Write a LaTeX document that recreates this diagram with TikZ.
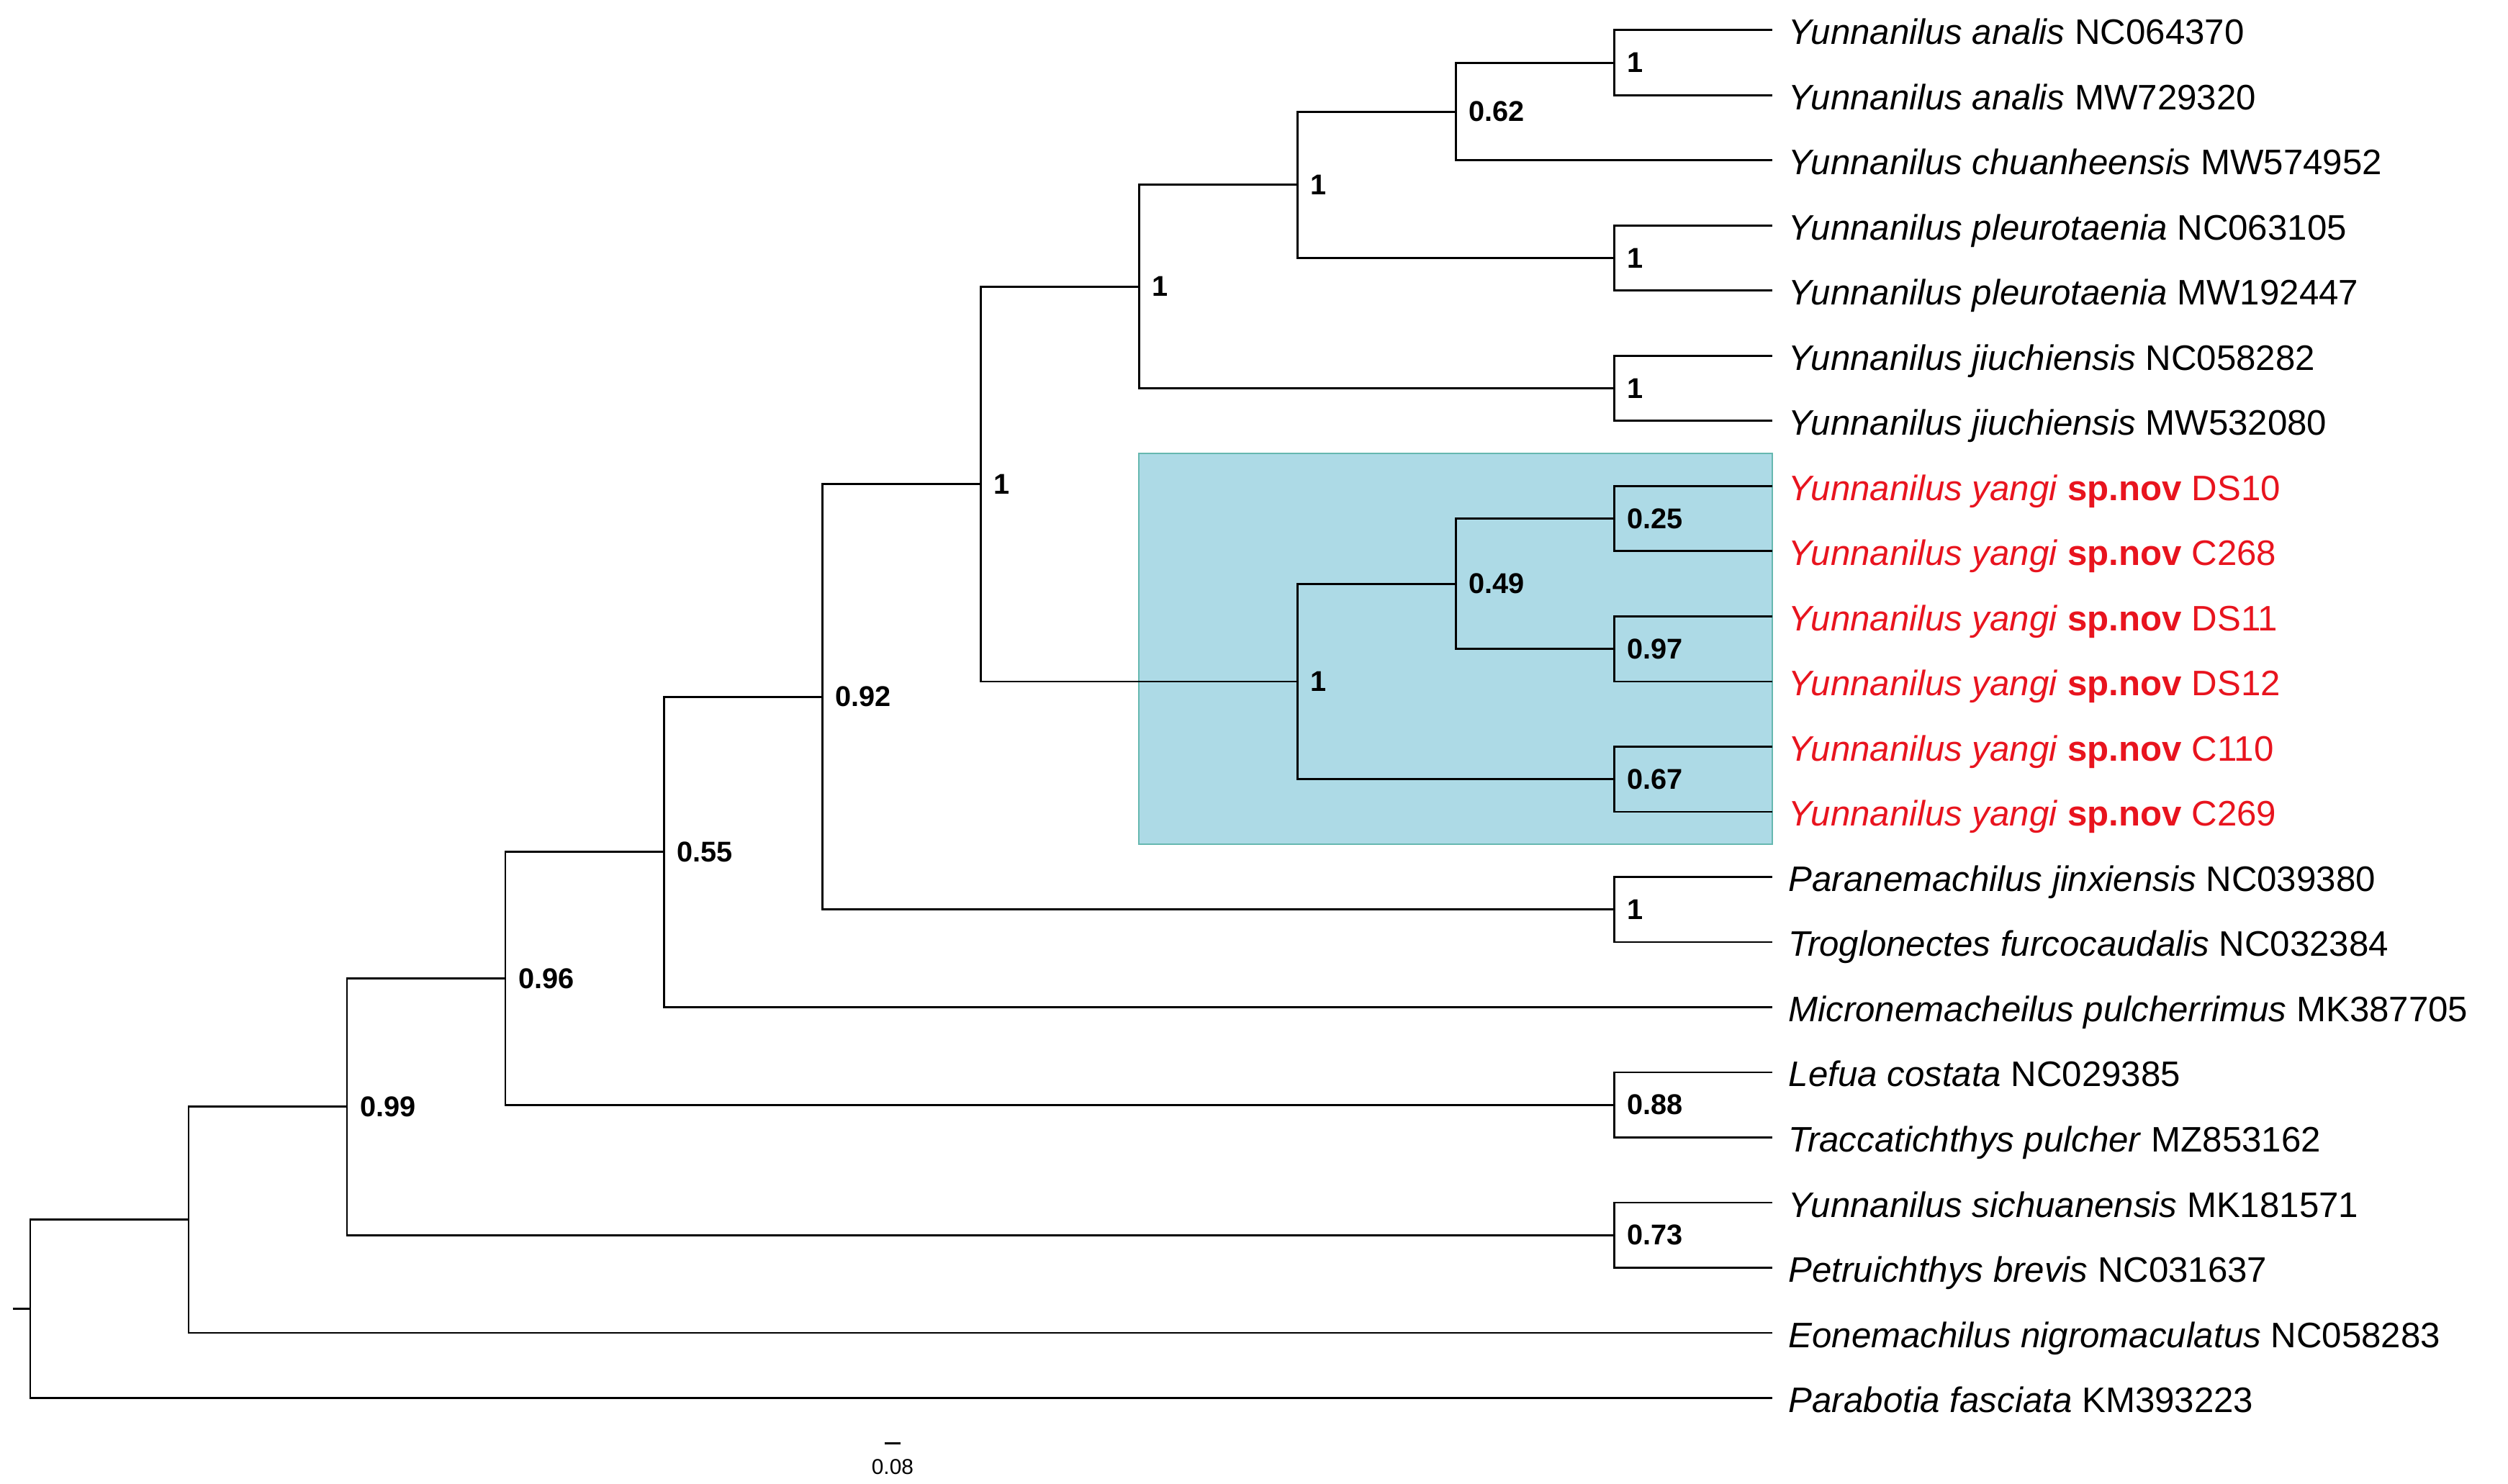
\documentclass[tikz,border=0pt]{standalone}
\usepackage{fontspec}
\setmainfont{Liberation Sans}
\usetikzlibrary{positioning}
\definecolor{cladeFill}{HTML}{ADDAE6}
\definecolor{cladeEdge}{HTML}{66B8B0}
\definecolor{newRed}{HTML}{E8141E}

\begin{document}
\begin{tikzpicture}[
      x=2.2cm, y=-0.905cm,
      node distance=0.22cm,
      branch/.style={draw=black, line width=0.85pt},
      leaf/.style={inner sep=0pt, yshift=-0.2cm, font=\fontsize{14pt}{16pt}\selectfont},
      newleaf/.style={leaf, text=newRed},
      support/.style={inner sep=0pt, anchor=west, font=\fontsize{11.3pt}{13pt}\selectfont\bfseries},
      scalelab/.style={inner sep=0pt, font=\fontsize{8.5pt}{10pt}\selectfont}
    ]
      \path[use as bounding box] (-0.42cm,0.42cm) rectangle (34.42cm,-20.2cm);

      % highlighted clade
      \fill[cladeFill] (7,6.5) rectangle (11,12.5);
      \draw[cladeEdge, line width=0.5pt] (7,6.5) rectangle (11,12.5);

      % tips
      \foreach \i in {1,...,22}
        \coordinate (t\i) at (11,\i-1);

      \node[leaf, base right=of t1] (n1) {\textit{Yunnanilus analis} NC064370};
      \node[leaf, base right=of t2] (n2) {\textit{Yunnanilus analis} MW729320};
      \node[leaf, base right=of t3] (n3) {\textit{Yunnanilus chuanheensis} MW574952};
      \node[leaf, base right=of t4] (n4) {\textit{Yunnanilus pleurotaenia} NC063105};
      \node[leaf, base right=of t5] (n5) {\textit{Yunnanilus pleurotaenia} MW192447};
      \node[leaf, base right=of t6] (n6) {\textit{Yunnanilus jiuchiensis} NC058282};
      \node[leaf, base right=of t7] (n7) {\textit{Yunnanilus jiuchiensis} MW532080};
      \node[newleaf, base right=of t8] (n8) {\textit{Yunnanilus yangi} \textbf{sp.nov} DS10};
      \node[newleaf, base right=of t9] (n9) {\textit{Yunnanilus yangi} \textbf{sp.nov} C268};
      \node[newleaf, base right=of t10] (n10) {\textit{Yunnanilus yangi} \textbf{sp.nov} DS11};
      \node[newleaf, base right=of t11] (n11) {\textit{Yunnanilus yangi} \textbf{sp.nov} DS12};
      \node[newleaf, base right=of t12] (n12) {\textit{Yunnanilus yangi} \textbf{sp.nov} C110};
      \node[newleaf, base right=of t13] (n13) {\textit{Yunnanilus yangi} \textbf{sp.nov} C269};
      \node[leaf, base right=of t14] (n14) {\textit{Paranemachilus jinxiensis} NC039380};
      \node[leaf, base right=of t15] (n15) {\textit{Troglonectes furcocaudalis} NC032384};
      \node[leaf, base right=of t16] (n16) {\textit{Micronemacheilus pulcherrimus} MK387705};
      \node[leaf, base right=of t17] (n17) {\textit{Lefua costata} NC029385};
      \node[leaf, base right=of t18] (n18) {\textit{Traccatichthys pulcher} MZ853162};
      \node[leaf, base right=of t19] (n19) {\textit{Yunnanilus sichuanensis} MK181571};
      \node[leaf, base right=of t20] (n20) {\textit{Petruichthys brevis} NC031637};
      \node[leaf, base right=of t21] (n21) {\textit{Eonemachilus nigromaculatus} NC058283};
      \node[leaf, base right=of t22] (n22) {\textit{Parabotia fasciata} KM393223};

      % internal nodes
      \coordinate (cA) at (10,0.5);
      \coordinate (cB) at (9,1.25);
      \coordinate (cC) at (10,3.5);
      \coordinate (cD) at (8,2.375);
      \coordinate (cE) at (10,5.5);
      \coordinate (cF) at (7,3.9375);
      \coordinate (cG) at (10,7.5);
      \coordinate (cH) at (10,9.5);
      \coordinate (cI) at (9,8.5);
      \coordinate (cJ) at (10,11.5);
      \coordinate (cK) at (8,10);
      \coordinate (cL) at (6,6.96875);
      \coordinate (cM) at (10,13.5);
      \coordinate (cN) at (5,10.234);
      \coordinate (cO) at (4,12.617);
      \coordinate (cP) at (10,16.5);
      \coordinate (cQ) at (3,14.559);
      \coordinate (cR) at (10,18.5);
      \coordinate (cS) at (2,16.529);
      \coordinate (cT) at (1,18.265);
      \coordinate (cU) at (0,19.632);
      \coordinate (stub) at (-0.11,19.632);

      % branches
      \draw[branch] (cA) |- (t1);  \draw[branch] (cA) |- (t2);
      \draw[branch] (cB) |- (cA);  \draw[branch] (cB) |- (t3);
      \draw[branch] (cC) |- (t4);  \draw[branch] (cC) |- (t5);
      \draw[branch] (cD) |- (cB);  \draw[branch] (cD) |- (cC);
      \draw[branch] (cE) |- (t6);  \draw[branch] (cE) |- (t7);
      \draw[branch] (cF) |- (cD);  \draw[branch] (cF) |- (cE);
      \draw[branch] (cG) |- (t8);  \draw[branch] (cG) |- (t9);
      \draw[branch] (cH) |- (t10); \draw[branch] (cH) |- (t11);
      \draw[branch] (cI) |- (cG);  \draw[branch] (cI) |- (cH);
      \draw[branch] (cJ) |- (t12); \draw[branch] (cJ) |- (t13);
      \draw[branch] (cK) |- (cI);  \draw[branch] (cK) |- (cJ);
      \draw[branch] (cL) |- (cF);  \draw[branch] (cL) |- (cK);
      \draw[branch] (cM) |- (t14); \draw[branch] (cM) |- (t15);
      \draw[branch] (cN) |- (cL);  \draw[branch] (cN) |- (cM);
      \draw[branch] (cO) |- (cN);  \draw[branch] (cO) |- (t16);
      \draw[branch] (cP) |- (t17); \draw[branch] (cP) |- (t18);
      \draw[branch] (cQ) |- (cO);  \draw[branch] (cQ) |- (cP);
      \draw[branch] (cR) |- (t19); \draw[branch] (cR) |- (t20);
      \draw[branch] (cS) |- (cQ);  \draw[branch] (cS) |- (cR);
      \draw[branch] (cT) |- (cS);  \draw[branch] (cT) |- (t21);
      \draw[branch] (cU) |- (cT);  \draw[branch] (cU) |- (t22);
      \draw[branch] (stub) -- (cU);

      % support values
      \node[support, right=0.18cm of cA] (sA) {1};
      \node[support, right=0.18cm of cB] (sB) {0.62};
      \node[support, right=0.18cm of cC] (sC) {1};
      \node[support, right=0.18cm of cD] (sD) {1};
      \node[support, right=0.18cm of cE] (sE) {1};
      \node[support, right=0.18cm of cF] (sF) {1};
      \node[support, right=0.18cm of cG] (sG) {0.25};
      \node[support, right=0.18cm of cH] (sH) {0.97};
      \node[support, right=0.18cm of cI] (sI) {0.49};
      \node[support, right=0.18cm of cJ] (sJ) {0.67};
      \node[support, right=0.18cm of cK] (sK) {1};
      \node[support, right=0.18cm of cL] (sL) {1};
      \node[support, right=0.18cm of cM] (sM) {1};
      \node[support, right=0.18cm of cN] (sN) {0.92};
      \node[support, right=0.18cm of cO] (sO) {0.55};
      \node[support, right=0.18cm of cP] (sP) {0.88};
      \node[support, right=0.18cm of cQ] (sQ) {0.96};
      \node[support, right=0.18cm of cR] (sR) {0.73};
      \node[support, right=0.18cm of cS] (sS) {0.99};

      % scale bar
      \coordinate (bar1) at (5.395,21.7);
      \coordinate (bar2) at (5.495,21.7);
      \draw[branch] (bar1) -- (bar2);
      \node[scalelab] (barlab) at (5.445,22.06) {0.08};
    \end{tikzpicture}
\end{document}
